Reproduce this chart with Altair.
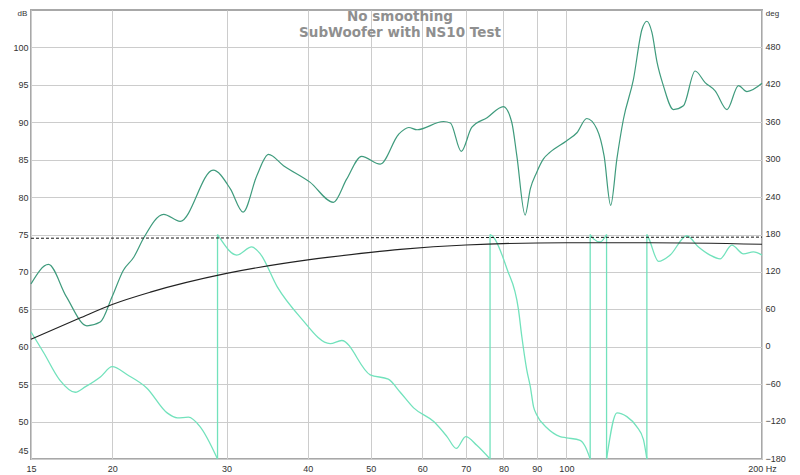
import altair as alt
import pandas as pd

# ---- data ----
mag_freq = [15.0, 15.96, 17.0, 18.29, 19.17, 20.0, 20.8, 21.6, 22.35, 24.0, 25.45, 28.6, 30.4, 31.8,
            33.4, 34.8, 36.7, 40.3, 43.8, 45.9, 48.4, 51.7, 55.2, 57.2, 58.9, 64.7, 66.3, 68.9,
            71.5, 75.5, 80.0, 82.4, 83.9, 86.4, 88.0, 90.0, 92.2, 94.4, 100.0, 103.8, 107.5, 111.4,
            114.3, 117.0, 119.6, 122.4, 126.8, 130.7, 133.0, 135.4, 137.9, 141.0, 146.1, 151.4,
            157.8, 163.5, 169.4, 176.7, 184.0, 189.6, 200.0]
mag_db = [68.4, 71.0, 66.7, 62.8, 63.3, 66.7, 70.2, 72.0, 74.5, 77.7, 76.75, 83.6, 81.1, 78.0,
          82.9, 85.7, 84.2, 82.0, 79.3, 82.4, 85.45, 84.4, 88.4, 89.3, 89.0, 90.1, 89.9, 86.1,
          89.3, 90.6, 92.1, 90.0, 85.5, 77.6, 81.1, 83.3, 85.1, 86.0, 87.5, 88.6, 90.5, 89.1,
          85.5, 78.9, 85.1, 90.4, 95.7, 102.4, 103.5, 102.0, 98.0, 94.9, 91.7, 92.2,
          96.85, 95.3, 94.2, 91.7, 94.9, 94.1, 95.2]

target_freq = [15, 17.8, 20, 22.9, 30, 40, 50, 55.5, 70, 100, 134, 200]
target_db = [61.0, 63.8, 65.65, 67.3, 69.8, 71.6, 72.6, 73.0, 73.6, 73.9, 73.9, 73.7]

level_freq = [15, 200]
level_db = [74.5, 74.65]

phase_freq = [15.0, 15.7, 16.6, 17.55, 18.2, 19.2, 20.0, 21.1, 22.6, 24.3, 25.2, 26.2, 27.3, 29.05,
              29.05, 29.3, 31.1, 32.8, 33.8, 35.9, 38.9, 43.3, 45.1, 49.9, 53.2, 55.5, 58.2, 62.5,
              65.5, 67.7, 70.0, 72.8, 76.3,
              76.3, 77.2, 81.0, 84.4, 85.4, 86.9, 88.0, 89.0, 90.0, 93.3, 97.8, 100.0, 105.0, 106.9, 108.8,
              108.8, 110.1, 112.7, 115.3,
              115.3, 119.6, 123.9, 128.3, 131.4, 133.0,
              133.0, 134.0, 138.6, 144.4, 153.2, 159.7, 166.4, 172.4, 179.7, 187.3, 194.0, 200.0]
phase_deg = [24, -10, -53, -73, -64, -48, -32, -45, -66, -106, -114, -113, -128, -180,
             180, 174, 147, 160, 149, 96, 48, 5, 10, -45, -52, -73, -98, -120,
             -144, -163, -144, -158, -180,
             180, 176, 125, 59, 16, -37, -64, -96, -109, -130, -144, -146, -150, -160, -180,
             180, 173, 168, 180,
             -180, -106, -112, -128, -149, -180,
             180, 173, 137, 147, 178, 160, 147, 141, 163, 149, 152, 147]

x_ticks = [15, 20, 30, 40, 50, 60, 70, 80, 90, 100, 200]
db_ticks = list(range(45, 101, 5))
deg_ticks = list(range(-180, 481, 60))
title_lines = ["No smoothing", "SubWoofer with NS10 Test"]

# ---- build tables ----
mag_df = pd.DataFrame({"freq": mag_freq, "db": mag_db})
target_df = pd.DataFrame({"freq": target_freq, "db": target_db})
level_df = pd.DataFrame({"freq": level_freq, "db": level_db})

seg = []
wraps = []
s = 0
for i, d in enumerate(phase_deg):
    if i > 0 and abs(d - phase_deg[i - 1]) > 300:
        s += 1
        wraps.append(phase_freq[i])
    seg.append(s)
phase_df = pd.DataFrame({"freq": phase_freq, "deg": phase_deg, "seg": seg})
wrap_df = pd.DataFrame({"freq": wraps, "lo": [-180] * len(wraps), "hi": [180] * len(wraps)})

FONT = "Liberation Sans"
GRID = "#cccccc"

x_axis = alt.Axis(values=x_ticks, grid=True, gridColor=GRID, ticks=False, domain=False,
                  labelFlush=False, labelOverlap=False, title=None, labelPadding=5,
                  labelExpr="datum.value == 200 ? '200 Hz' : format(datum.value, 'd')")
x_enc = alt.X("freq:Q", scale=alt.Scale(type="log", domain=[15, 200], nice=False), axis=x_axis)

left_axis = alt.Axis(values=db_ticks, grid=True, gridColor=GRID, ticks=False, domain=False,
                     labelFlush=True, labelFlushOffset=-4, labelPadding=3, title="dB",
                     titleAngle=0, titleX=-9, titleY=7, titleAlign="center",
                     titleBaseline="bottom", titleFontSize=8, titleFontWeight="normal")
y_left = alt.Y("db:Q", scale=alt.Scale(domain=[45, 105], nice=False, zero=False), axis=left_axis)

right_axis = alt.Axis(orient="right", values=deg_ticks, grid=False, ticks=False, domain=False,
                      labelFlush=False, labelPadding=3, labelOffset=-1, title="deg", titleAngle=0,
                      titleX=10, titleY=7, titleAlign="center", titleBaseline="bottom",
                      titleFontSize=8, titleFontWeight="normal")
deg_scale = alt.Scale(domain=[-180, 540], nice=False, zero=False)

mag = alt.Chart(mag_df).mark_line(color="#3f9b7d", strokeWidth=1.2, interpolate="monotone").encode(
    x=x_enc, y=y_left)
target = alt.Chart(target_df).mark_line(color="#222222", strokeWidth=1.2, interpolate="monotone").encode(
    x=x_enc, y=y_left)
level = alt.Chart(level_df).mark_line(color="#111111", strokeWidth=1, strokeDash=[3, 2]).encode(
    x=x_enc, y=y_left)

phase = alt.Chart(phase_df).mark_line(color="#72e2bc", strokeWidth=1.3, interpolate="monotone").encode(
    x=x_enc, y=alt.Y("deg:Q", scale=deg_scale, axis=right_axis), detail="seg:N")
wrap = alt.Chart(wrap_df).mark_rule(color="#72e2bc", strokeWidth=1.3).encode(
    x=x_enc, y=alt.Y("lo:Q", scale=deg_scale, axis=right_axis), y2="hi:Q")

left_group = alt.layer(mag, target, level)
right_group = alt.layer(phase, wrap)

title = alt.Chart(pd.DataFrame({"a": [0]})).mark_text(
    text=title_lines, font="DejaVu Sans", fontWeight="bold", fontSize=13.5, color="#8f8f8f",
    align="center", baseline="alphabetic", lineHeight=15.5
).encode(x=alt.value(369), y=alt.value(11))

chart = alt.layer(right_group, left_group, title).resolve_scale(y="independent").properties(
    width=731, height=449,
    padding={"left": 23, "top": 2, "right": 30, "bottom": 14},
    autosize=alt.AutoSizeParams(type="none"),
).configure_view(stroke="#a8a8a8", strokeWidth=2).configure_axis(
    labelFont=FONT, labelFontSize=9, labelColor="#333333", titleFont=FONT, titleColor="#333333"
)

chart.save("out.html", embed_options={"renderer": "svg", "actions": False})
